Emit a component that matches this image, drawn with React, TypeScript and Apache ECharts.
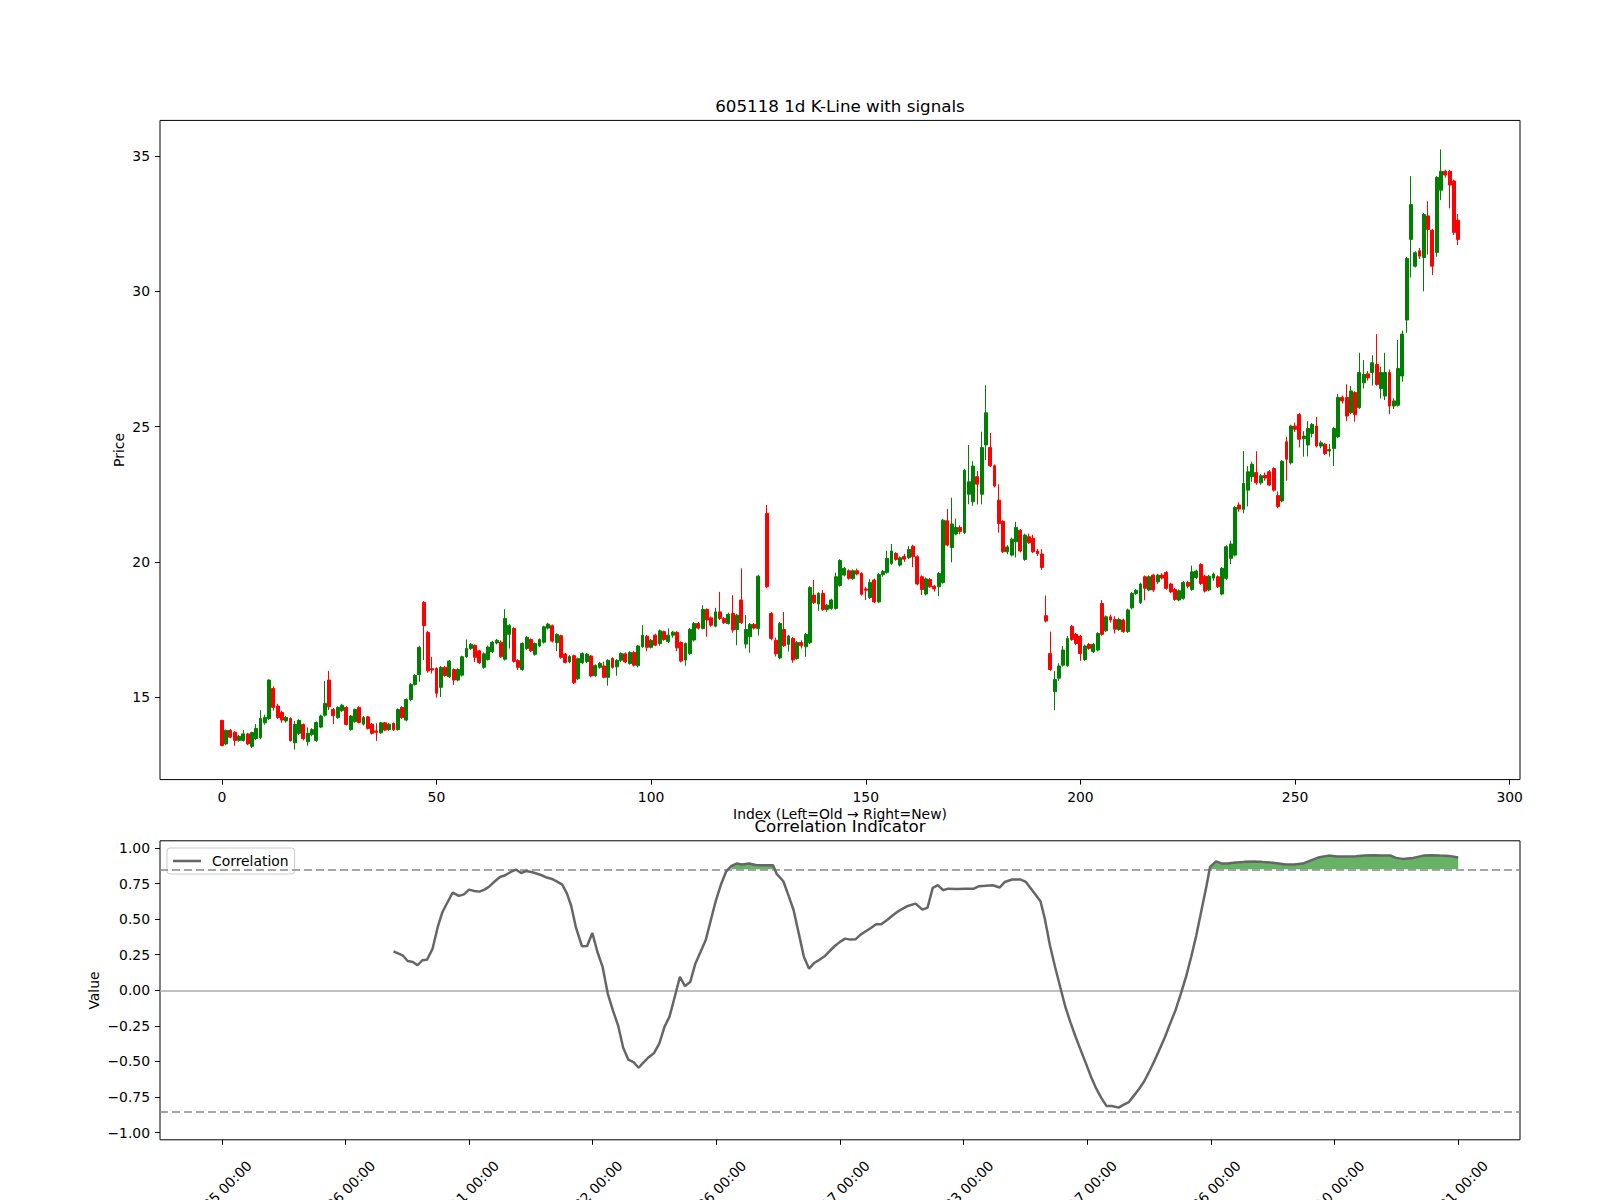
import React, { useEffect, useRef } from "react";
import * as echarts from "echarts";

const FONT = "DejaVu Sans";

// OHLC per index (null = missing day)
const opens = [
  14.14, 13.27, 13.77, 13.70, 13.40, 13.40, 13.64, 13.18, 13.47, 13.50,
  14.05, 14.21, 15.32, 14.67, 14.43, 14.12, 14.21, 13.31, 13.66, 13.99,
  13.35, 13.62, 13.40, 13.89, 14.33, 15.63, 14.54, 14.24, 14.50, 14.62,
  13.80, 14.09, 14.62, 14.00, 14.27, 14.00, 13.75, 13.68, 14.05, 13.80,
  14.03, 13.80, 14.62, 14.15, 14.91, 15.47, 15.83, 18.50, 17.39, 16.05,
  16.06, 15.36, 16.10, 15.75, 16.02, 15.63, 15.81, 16.49, 16.80, 16.91,
  16.71, 16.10, 16.39, 16.68, 17.00, 17.03, 16.40, 17.32, 17.54, 16.35,
  16.02, 16.80, 17.13, 16.58, 16.89, 17.03, 17.55, 17.64, 17.01, 17.27,
  16.59, 16.30, 16.53, 15.68, 16.27, 16.31, 16.52, 15.80, 16.10, 16.15,
  15.73, 16.43, 16.12, 16.36, 16.60, 16.24, 16.65, 16.16, 16.86, 17.25,
  16.84, 17.29, 16.98, 17.42, 17.05, 17.29, 17.39, 17.02, 16.37, 16.61,
  17.11, 17.72, 17.54, 18.24, 17.93, 17.62, 18.15, 17.91, 17.72, 18.09,
  17.50, 18.59, 16.96, 17.23, 17.69, 17.54, null, 21.79, 18.09, 17.10,
  16.45, 17.50, 16.95, 17.17, 16.43, 17.02, 16.86, 17.01, 18.77, 18.44,
  18.83, 18.24, 18.28, 18.28, 19.13, 19.51, 19.67, 19.38, 19.67, 19.57,
  19.00, 18.68, 19.33, 18.52, 19.53, 19.61, 19.94, 20.31, 19.88, 20.20,
  20.15, 20.58, 20.19, 19.45, 18.81, 19.35, 19.10, 19.08, 19.24, 21.52,
  20.53, 21.03, 21.27, 21.08, 22.50, 22.22, 23.15, 22.50, 24.32, 24.23,
  23.55, 22.28, 21.49, 20.37, 20.25, 20.74, 21.17, 20.09, 20.93, 20.87,
  20.40, 20.29, 18.01, 16.61, 15.20, 15.70, 16.18, 16.16, 17.62, 17.32,
  17.25, 16.39, 16.95, 16.68, 16.74, 18.46, 17.45, 17.97, 17.87, 17.50,
  17.85, 17.42, 18.30, 18.83, 18.49, 19.45, 18.96, 19.51, 19.26, 19.51,
  19.61, 19.18, 18.98, 18.59, 18.65, 19.24, 18.98, 19.42, 19.90, 19.47,
  18.96, 19.40, 19.45, 18.81, 19.39, 20.13, 20.25, 22.10, 21.94, 22.65,
  23.15, 23.30, 22.92, 23.20, 23.33, 23.45, 22.45, 22.25, 24.44, 23.66,
  25.02, 25.45, 24.55, 24.32, 24.75, 25.02, 24.28, 24.35, 24.10, 24.19,
  24.62, 26.08, 26.08, 25.51, 26.26, 25.70, 26.62, 26.95, 27.00, 27.30,
  26.41, 26.13, 27.00, 25.76, 25.79, 26.87, 28.94, 31.92, 30.93, 31.50,
  31.25, 32.79, 32.26, 31.44, 33.74, 34.44, 34.44, 34.08, 32.63,
];

const closes = [
  13.21, 13.77, 13.52, 13.40, 13.55, 13.64, 13.27, 13.69, 13.84, 14.21,
  14.25, 15.63, 14.62, 14.24, 14.15, 14.25, 13.39, 13.99, 14.14, 13.46,
  13.66, 13.80, 14.06, 14.30, 14.77, 14.64, 14.31, 14.62, 14.70, 13.99,
  14.30, 14.54, 14.06, 14.25, 13.84, 13.66, 13.70, 14.05, 13.78, 14.00,
  13.79, 14.54, 14.24, 14.91, 15.47, 15.80, 16.84, 17.64, 15.97, 16.00,
  15.14, 16.10, 15.80, 16.33, 15.63, 16.02, 16.49, 16.80, 16.95, 16.47,
  16.27, 16.60, 16.85, 17.03, 17.10, 16.49, 17.91, 17.65, 16.32, 16.10,
  16.98, 17.21, 16.71, 16.98, 17.13, 17.60, 17.70, 17.07, 17.32, 16.47,
  16.28, 16.50, 15.53, 16.42, 16.61, 16.59, 15.78, 16.17, 16.25, 15.73,
  16.36, 16.10, 16.36, 16.61, 16.30, 16.65, 16.18, 16.89, 17.29, 16.84,
  17.10, 16.92, 17.45, 17.13, 17.29, 17.40, 16.82, 16.33, 16.98, 17.50,
  17.72, 17.55, 18.24, 17.85, 17.66, 18.15, 17.91, 17.75, 18.06, 17.48,
  18.03, 17.75, 17.50, 17.69, 17.55, 19.47, null, 19.08, 17.17, 16.60,
  17.72, 16.90, 17.26, 16.37, 17.02, 16.90, 17.32, 19.05, 18.49, 18.83,
  18.24, 18.40, 18.59, 19.45, 20.05, 19.76, 19.39, 19.67, 19.55, 18.80,
  18.95, 19.24, 18.52, 19.53, 19.65, 20.13, 20.40, 20.09, 20.15, 20.10,
  20.46, 20.19, 19.18, 18.98, 19.37, 19.08, 19.00, 19.57, 21.54, 20.62,
  21.40, 21.27, 21.12, 23.39, 22.96, 23.54, 22.87, 24.23, 25.51, 23.55,
  22.80, 21.42, 20.37, 20.55, 20.84, 21.27, 20.40, 20.99, 20.71, 20.37,
  20.30, 19.79, 17.81, 16.02, 15.65, 16.15, 16.74, 17.17, 17.13, 16.98,
  16.61, 16.89, 16.80, 16.95, 17.35, 17.32, 17.97, 17.85, 17.51, 17.87,
  17.42, 18.22, 18.83, 18.95, 19.18, 19.02, 19.45, 18.96, 19.51, 19.40,
  19.02, 18.89, 18.61, 18.93, 19.24, 19.10, 19.63, 19.66, 19.20, 18.92,
  19.47, 19.55, 19.08, 19.76, 20.56, 20.66, 22.01, 21.95, 22.90, 23.33,
  23.61, 22.92, 23.18, 23.10, 22.84, 22.65, 22.05, 23.72, 23.79, 25.02,
  24.90, 24.53, 24.65, 24.93, 25.08, 24.28, 24.40, 24.00, 24.15, 24.93,
  26.08, 25.95, 25.39, 26.32, 25.45, 27.00, 26.93, 26.80, 27.36, 26.56,
  27.00, 27.00, 25.76, 25.95, 27.15, 28.42, 31.22, 33.21, 31.43, 31.30,
  32.84, 32.29, 30.93, 34.21, 34.44, 34.30, 33.93, 32.18, 31.92,
];

const lows = [
  13.18, 13.22, 13.48, 13.20, 13.35, 13.36, 13.22, 13.12, 13.42, 13.44,
  13.98, 14.15, 14.50, 14.20, 14.05, 14.05, 13.35, 13.06, 13.60, 13.40,
  13.20, 13.55, 13.35, 13.85, 14.28, 14.52, 14.00, 14.20, 14.45, 13.95,
  13.76, 14.05, 14.02, 13.95, 13.80, 13.62, 13.38, 13.64, 13.74, 13.75,
  13.75, 13.76, 14.20, 14.10, 14.85, 15.42, 15.57, 16.37, 15.90, 15.87,
  14.98, 15.00, 15.75, 15.70, 15.45, 15.58, 15.76, 16.44, 16.75, 16.30,
  16.22, 16.05, 16.35, 16.63, 16.95, 16.45, 16.35, 16.80, 16.28, 16.00,
  15.98, 16.75, 16.66, 16.53, 16.85, 16.98, 17.50, 17.02, 16.70, 16.42,
  16.24, 16.25, 15.48, 15.63, 16.22, 16.26, 15.73, 15.75, 16.05, 15.70,
  15.42, 16.05, 15.79, 16.30, 16.25, 16.20, 16.13, 16.10, 16.82, 16.70,
  16.80, 16.88, 16.90, 17.08, 17.00, 17.20, 16.70, 16.28, 16.16, 16.56,
  17.05, 17.50, 17.50, 17.23, 17.60, 17.58, 17.85, 17.70, 17.68, 17.38,
  16.92, 17.70, 16.80, 16.64, 17.50, 17.27, null, 19.02, 17.10, 16.50,
  16.40, 16.85, 16.68, 16.27, 16.38, 16.80, 16.49, 16.96, 18.44, 18.19,
  18.19, 18.15, 18.23, 18.23, 19.08, 19.46, 19.34, 19.33, 19.50, 18.75,
  18.59, 18.63, 18.47, 18.47, 19.45, 19.56, 19.89, 20.04, 19.83, 20.00,
  20.10, 19.80, 19.13, 18.77, 18.76, 19.03, 18.90, 18.73, 19.19, 20.57,
  19.98, 20.98, 21.02, 21.03, 22.13, 22.07, 22.12, 22.13, 23.76, 23.50,
  22.75, 21.08, 20.32, 20.28, 20.20, 20.16, 20.35, 20.04, 20.66, 20.32,
  20.22, 19.70, 17.76, 15.97, 14.52, 15.60, 16.13, 16.11, 17.08, 16.93,
  16.34, 16.34, 16.75, 16.63, 16.69, 17.27, 17.40, 17.75, 17.35, 17.45,
  17.37, 17.37, 18.24, 18.78, 18.44, 18.58, 18.91, 18.89, 19.18, 19.35,
  18.97, 18.84, 18.56, 18.54, 18.60, 19.02, 18.93, 19.37, 19.15, 18.87,
  18.91, 19.30, 19.03, 18.76, 19.34, 19.92, 20.20, 21.85, 21.79, 22.05,
  22.96, 22.85, 22.85, 23.00, 22.80, 22.60, 21.98, 22.20, 23.00, 23.60,
  24.80, 24.23, 23.89, 23.90, 24.60, 24.23, 24.20, 23.95, 23.89, 23.54,
  24.57, 25.85, 25.20, 25.46, 25.18, 25.65, 26.41, 26.70, 26.52, 26.51,
  26.04, 25.98, 25.46, 25.65, 25.74, 26.66, 28.47, 30.51, 30.88, 31.20,
  30.00, 31.36, 30.60, 31.28, 33.37, 34.20, 33.07, 32.08, 31.71,
];

const highs = [
  14.16, 13.80, 13.82, 13.74, 13.60, 13.78, 13.68, 13.72, 14.00, 14.52,
  14.35, 15.65, 15.40, 14.75, 14.50, 14.30, 14.25, 14.12, 14.18, 14.02,
  13.88, 13.85, 14.10, 14.35, 15.59, 15.97, 14.60, 14.66, 14.75, 14.66,
  14.34, 14.58, 14.66, 14.30, 14.30, 14.04, 14.03, 14.08, 14.08, 14.05,
  14.06, 14.58, 14.66, 14.95, 15.52, 15.85, 16.90, 18.55, 17.45, 16.49,
  16.10, 16.15, 16.15, 16.38, 16.06, 16.06, 16.53, 17.13, 17.00, 16.95,
  16.75, 16.65, 16.90, 17.08, 17.15, 17.10, 18.25, 17.70, 17.58, 16.40,
  17.02, 17.25, 17.17, 17.02, 17.17, 17.64, 17.75, 17.68, 17.36, 17.31,
  16.63, 16.55, 16.57, 16.46, 16.65, 16.63, 16.56, 16.21, 16.30, 16.31,
  16.40, 16.47, 16.40, 16.65, 16.65, 16.70, 16.70, 16.93, 17.66, 17.30,
  17.15, 17.34, 17.50, 17.46, 17.54, 17.45, 17.44, 17.06, 17.02, 17.55,
  17.77, 17.78, 18.40, 18.28, 17.98, 18.30, 18.89, 17.96, 18.12, 18.77,
  18.08, 19.76, 18.03, 17.74, 17.74, 19.52, null, 22.10, 18.15, 17.20,
  17.77, 18.15, 17.30, 17.22, 17.07, 17.10, 17.37, 19.10, 19.33, 18.88,
  18.96, 18.45, 18.64, 19.60, 20.10, 19.81, 19.72, 19.72, 19.75, 19.62,
  19.08, 19.36, 19.38, 19.58, 19.70, 20.41, 20.66, 20.36, 20.20, 20.30,
  20.58, 20.63, 20.24, 19.50, 19.42, 19.40, 19.15, 19.62, 21.59, 21.95,
  22.37, 21.60, 21.35, 23.44, 24.32, 23.72, 23.36, 24.81, 26.53, 24.77,
  23.60, 22.87, 21.54, 20.62, 20.90, 21.48, 21.22, 21.04, 21.05, 21.00,
  20.48, 20.47, 18.75, 17.42, 15.96, 16.25, 16.89, 17.26, 17.67, 17.37,
  17.30, 16.94, 17.00, 17.00, 17.40, 18.59, 18.02, 18.05, 17.99, 17.94,
  17.90, 18.27, 18.88, 19.00, 19.23, 19.50, 19.50, 19.56, 19.56, 19.58,
  19.66, 19.23, 19.03, 18.98, 19.29, 19.30, 19.86, 19.71, 19.95, 19.52,
  19.52, 19.60, 19.50, 19.81, 20.61, 20.78, 22.06, 22.20, 24.10, 23.54,
  23.70, 24.09, 23.25, 23.30, 23.40, 23.50, 22.60, 23.77, 24.62, 25.07,
  25.15, 25.50, 24.83, 25.20, 25.13, 25.36, 24.48, 24.40, 24.35, 24.98,
  26.20, 26.15, 26.56, 26.50, 26.31, 27.73, 27.46, 27.05, 27.64, 28.42,
  27.21, 27.73, 27.11, 26.05, 28.20, 28.55, 31.27, 34.26, 31.48, 31.60,
  32.90, 33.33, 32.31, 34.26, 35.25, 34.50, 34.49, 34.13, 32.86,
];

// Correlation indicator (index position, value)
const corrX = [
  40, 42.1, 43.3, 44.5, 45.6, 46.7, 47.8, 49.1, 50.3, 51.4,
  52.6, 53.8, 55.2, 56.4, 57.6, 58.8, 60.0, 61.2, 62.4, 63.6,
  64.8, 66.0, 67.3, 68.5, 69.7, 70.9, 72.1, 73.3, 74.5, 75.7,
  76.9, 78.1, 79.3, 80.4, 81.4, 82.5, 83.9, 85.1, 86.3, 87.5,
  88.7, 89.9, 91.1, 92.3, 93.5, 94.7, 95.9, 97.1, 98.3, 99.5,
  100.7, 101.9, 103.1, 104.3, 105.5, 106.7, 107.9, 109.1, 110.3, 111.5,
  112.7, 113.9, 115.1, 116.3, 117.5, 118.7, 119.9, 121.2, 122.8, 124.4,
  126.0, 128.4, 129.2, 130.8, 132.0, 133.2, 134.4, 135.6, 136.8, 138.0,
  139.2, 140.4, 141.6, 142.8, 144.0, 145.2, 146.4, 147.6, 148.8, 150.0,
  151.2, 152.4, 153.6, 154.9, 156.1, 157.3,
  158.5, 159.6, 161.6, 163.2, 164.4, 165.6, 166.8, 168.0, 169.2, 171.2,
  173.2, 175.2, 176.4, 178.0, 179.6, 181.2, 182.4, 184.1, 186.1, 187.3,
  188.9, 190.7, 191.7, 192.9, 194.1, 195.3, 196.5, 197.7, 198.9, 200.1,
  201.3, 202.5, 203.7, 204.9, 206.1, 207.3, 208.9, 210.1, 211.3, 212.5,
  213.7, 214.9, 216.1, 217.3, 218.5, 219.7, 220.9, 222.2, 223.4, 224.6,
  225.8, 227.0, 228.2, 229.4, 230.2, 231.6, 233.0, 234.2, 236.2, 238.2,
  240.2, 242.2, 244.2, 246.2, 247.8, 249.8, 251.8, 253.4, 255.4, 257.8,
  259.8, 262.2, 264.2, 266.2, 268.2, 270.2, 272.3, 273.5, 275.1, 277.5,
  279.9, 281.9, 283.7, 285.9, 288,
];

const corrY = [
  0.274, 0.246, 0.206, 0.199, 0.176, 0.211, 0.215, 0.293, 0.445, 0.550,
  0.620, 0.686, 0.663, 0.674, 0.707, 0.698, 0.693, 0.707, 0.731, 0.766,
  0.796, 0.808, 0.831, 0.848, 0.824, 0.838, 0.831, 0.820, 0.808, 0.792,
  0.782, 0.763, 0.742, 0.679, 0.592, 0.440, 0.309, 0.311, 0.403, 0.269,
  0.164, -0.023, -0.141, -0.246, -0.403, -0.487, -0.504, -0.544, -0.504, -0.468,
  -0.440, -0.375, -0.258, -0.183, -0.047, 0.094, 0.030, 0.058, 0.187, 0.269,
  0.351, 0.492, 0.632, 0.745, 0.836, 0.874, 0.890, 0.883, 0.890, 0.880,
  0.878, 0.878, 0.820, 0.766, 0.667, 0.562, 0.398, 0.234, 0.152, 0.192,
  0.215, 0.239, 0.276, 0.311, 0.340, 0.363, 0.356, 0.358, 0.391, 0.415,
  0.438, 0.464, 0.464, 0.492, 0.522, 0.550,
  0.572, 0.590, 0.609, 0.567, 0.581, 0.719, 0.738, 0.703, 0.714, 0.712,
  0.714, 0.714, 0.731, 0.735, 0.738, 0.722, 0.761, 0.778, 0.778, 0.761,
  0.698, 0.625, 0.504, 0.316, 0.164, 0.023, -0.117, -0.227, -0.328, -0.422,
  -0.515, -0.609, -0.691, -0.757, -0.813, -0.813, -0.824, -0.803, -0.785, -0.738,
  -0.691, -0.637, -0.567, -0.492, -0.410, -0.328, -0.234, -0.136, -0.023, 0.094,
  0.234, 0.386, 0.562, 0.738, 0.867, 0.906, 0.890, 0.890, 0.897, 0.902,
  0.904, 0.902, 0.897, 0.890, 0.883, 0.883, 0.890, 0.909, 0.932, 0.946,
  0.939, 0.939, 0.941, 0.946, 0.948, 0.946, 0.946, 0.930, 0.923, 0.930,
  0.946, 0.948, 0.946, 0.944, 0.932,
];

const THRESH = 0.85;

const priceTicks = [15, 20, 25, 30, 35];
const indexTicks = [0, 50, 100, 150, 200, 250, 300];
const corrTicks = [-1, -0.75, -0.5, -0.25, 0, 0.25, 0.5, 0.75, 1];
const dateTickPos = [0, 28.8, 57.6, 86.4, 115.2, 144, 172.8, 201.6, 230.4, 259.2, 288];
const dateTickLabels = [
  "2024-06-25 00:00", "2024-08-06 00:00", "2024-09-11 00:00", "2024-10-22 00:00",
  "2024-12-06 00:00", "2025-01-17 00:00", "2025-03-03 00:00", "2025-04-17 00:00",
  "2025-05-26 00:00", "2025-07-10 00:00", "2025-08-21 00:00",
];

const GRID_L = 160;
const GRID_W = 1360;
const TOP1 = 120.4;
const H1 = 659.2;
const TOP2 = 840.8;
const H2 = 299;
// rotated date labels are centred under their ticks (as in the reference)
const LABEL_SHIFT = 6.36;

export default function App() {
  const ref = useRef<HTMLDivElement>(null);

  useEffect(() => {
    if (!ref.current) return;
    const chart = echarts.init(ref.current, null, { renderer: "svg", width: 1600, height: 1200 });

    const candleData: any[] = [];
    opens.forEach((o, i) => {
      if (o == null) return;
      candleData.push([i, o, closes[i], lows[i], highs[i]]);
    });

    const corrData = corrX.map((x, i) => [x, corrY[i]]);

    // contiguous runs where the correlation is above the threshold
    const regions: number[][] = [];
    let start = -1;
    for (let i = 0; i <= corrY.length; i++) {
      const above = i < corrY.length && corrY[i] > THRESH;
      if (above && start < 0) start = i;
      if (!above && start >= 0) {
        regions.push([corrX[start], corrX[i - 1], start, i - 1]);
        start = -1;
      }
    }

    const labelStyle = { color: "#000", fontFamily: FONT, fontSize: 13.9 };
    const tickStyle = { show: true, length: 5, lineStyle: { color: "#000", width: 1 } };
    const noLine = { show: false, onZero: false };

    const option: any = {
      animation: false,
      backgroundColor: "#ffffff",
      textStyle: { fontFamily: FONT },
      grid: [
        { left: GRID_L, top: TOP1, width: GRID_W, height: H1, show: true, borderColor: "#000", borderWidth: 1, backgroundColor: "transparent", outerBoundsMode: "none", containLabel: false },
        { left: GRID_L, top: TOP2, width: GRID_W, height: H2, show: true, borderColor: "#000", borderWidth: 1, backgroundColor: "transparent", outerBoundsMode: "none", containLabel: false },
      ],
      xAxis: [
        {
          type: "value", gridIndex: 0, min: -14.4, max: 302.4, position: "bottom",
          axisLine: noLine, splitLine: { show: false },
          axisTick: { ...tickStyle, customValues: indexTicks },
          axisLabel: { ...labelStyle, margin: 10, customValues: indexTicks, formatter: (v: number) => String(Math.round(v)) },
        },
        {
          type: "value", gridIndex: 1, min: -14.4, max: 302.4, position: "bottom",
          axisLine: noLine, splitLine: { show: false },
          axisTick: { ...tickStyle, customValues: dateTickPos },
          axisLabel: { show: false },
        },
        {
          type: "value", gridIndex: 1, min: -14.4, max: 302.4, position: "bottom", offset: 0,
          axisLine: noLine, splitLine: { show: false }, axisTick: { show: false },
          axisLabel: {
            ...labelStyle, margin: 23.3, rotate: 45,
            customValues: dateTickPos.map((v) => v + LABEL_SHIFT),
            formatter: (v: number) => dateTickLabels[Math.round((v - LABEL_SHIFT) / 28.8)] ?? "",
          },
        },
      ],
      yAxis: [
        {
          type: "value", gridIndex: 0, min: 11.95, max: 36.32, position: "left",
          axisLine: noLine, splitLine: { show: false },
          axisTick: { ...tickStyle, customValues: priceTicks },
          axisLabel: { ...labelStyle, margin: 10, customValues: priceTicks, formatter: (v: number) => String(Math.round(v)) },
        },
        {
          type: "value", gridIndex: 1, min: -1.05, max: 1.05, position: "left",
          axisLine: noLine, splitLine: { show: false },
          axisTick: { ...tickStyle, customValues: corrTicks },
          axisLabel: {
            ...labelStyle, margin: 10, customValues: corrTicks,
            formatter: (v: number) => v.toFixed(2).replace("-", "\u2212"),
          },
        },
      ],
      legend: {
        data: [{ name: "Correlation", icon: "rect" }],
        left: 167, top: 848,
        orient: "horizontal",
        padding: [6, 6, 6, 6],
        itemWidth: 28, itemHeight: 2.6,
        backgroundColor: "rgba(255,255,255,0.8)",
        borderColor: "#cccccc", borderWidth: 1, borderRadius: 3,
        textStyle: { color: "#000", fontFamily: FONT, fontSize: 13.9, padding: [0, 0, 0, 6] },
        itemStyle: { color: "#666666", borderWidth: 0 },
        selectedMode: false,
      },
      graphic: [
        { type: "text", x: 840, y: 106, style: { text: "605118 1d K-Line with signals", fill: "#000", font: `16.7px "${FONT}"`, textAlign: "center", textVerticalAlign: "middle" } },
        { type: "text", x: 840, y: 814.3, style: { text: "Index (Left=Old \u2192 Right=New)", fill: "#000", font: `13.9px "${FONT}"`, textAlign: "center", textVerticalAlign: "middle" } },
        { type: "text", x: 840, y: 825.5, style: { text: "Correlation Indicator", fill: "#000", font: `16.7px "${FONT}"`, textAlign: "center", textVerticalAlign: "middle" } },
        { type: "text", x: 119.4, y: 450, rotation: Math.PI / 2, style: { text: "Price", fill: "#000", font: `13.9px "${FONT}"`, textAlign: "center", textVerticalAlign: "middle" } },
        { type: "text", x: 93.9, y: 990.5, rotation: Math.PI / 2, style: { text: "Value", fill: "#000", font: `13.9px "${FONT}"`, textAlign: "center", textVerticalAlign: "middle" } },
      ],
      series: [
        {
          type: "candlestick",
          name: "K",
          xAxisIndex: 0, yAxisIndex: 0,
          dimensions: ["idx", "open", "close", "lowest", "highest"],
          encode: { x: 0, y: [1, 2, 3, 4] },
          data: candleData,
          barWidth: 3.4,
          itemStyle: {
            color: "#008000", color0: "#ff0000",
            borderColor: "#008000", borderColor0: "#ff0000",
            borderWidth: 1,
          },
          silent: true,
        },
        {
          type: "custom", name: "fill", xAxisIndex: 1, yAxisIndex: 1,
          data: regions, encode: { x: [0, 1] }, silent: true, z: 2,
          renderItem: (params: any, api: any) => {
            const s = api.value(2);
            const e = api.value(3);
            const pts: number[][] = [];
            pts.push(api.coord([corrX[s], THRESH]));
            for (let k = s; k <= e; k++) pts.push(api.coord([corrX[k], corrY[k]]));
            pts.push(api.coord([corrX[e], THRESH]));
            return {
              type: "polygon",
              shape: { points: pts },
              style: { fill: "rgba(0,128,0,0.6)", stroke: "none" },
            };
          },
        },
        {
          type: "line", name: "Correlation", xAxisIndex: 1, yAxisIndex: 1,
          data: corrData, symbol: "none", showSymbol: false, silent: true,
          lineStyle: { color: "#666666", width: 2.5 },
          itemStyle: { color: "#666666" },
          z: 5,
          markLine: {
            silent: true, symbol: ["none", "none"], label: { show: false },
            data: [
              { yAxis: THRESH, lineStyle: { type: [8, 4], color: "#888888", width: 1.5 } },
              { yAxis: -THRESH, lineStyle: { type: [8, 4], color: "#888888", width: 1.5 } },
              { yAxis: 0, lineStyle: { type: "solid", color: "#aaaaaa", width: 1.5 } },
            ],
          },
        },
      ],
    };

    chart.setOption(option);
    return () => chart.dispose();
  }, []);

  return (
    <div
      ref={ref}
      style={{ position: "absolute", left: 0, top: 0, width: 1600, height: 1200, background: "#fff" }}
    />
  );
}
